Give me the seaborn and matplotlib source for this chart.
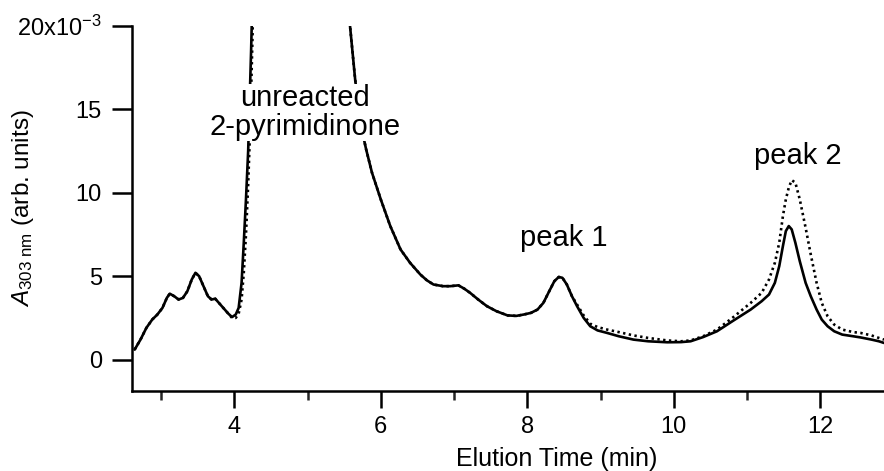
import numpy as np
import pandas as pd
import matplotlib
matplotlib.use("Agg")
import matplotlib.pyplot as plt
import seaborn as sns

# ---- data (absorbance in units of 1e-3) ----
time_min = [2.64, 2.72, 2.80, 2.88, 2.95, 3.02, 3.08, 3.12, 3.18, 3.24, 3.30, 3.36,
            3.42, 3.47, 3.52, 3.58, 3.64, 3.69, 3.74, 3.79, 3.85, 3.92, 3.97, 4.02,
            4.06, 4.10, 4.13, 4.16, 4.19, 4.21, 4.23, 4.25, 4.30, 4.60, 5.00, 5.30,
            5.52, 5.58, 5.65, 5.72, 5.80, 5.88, 6.00, 6.13, 6.27, 6.40, 6.54, 6.63,
            6.72, 6.85, 6.95, 7.06, 7.14, 7.22, 7.33, 7.45, 7.58, 7.73, 7.85, 7.95,
            8.05, 8.14, 8.22, 8.30, 8.37, 8.43, 8.48, 8.54, 8.61, 8.68, 8.77, 8.86,
            8.96, 9.09, 9.25, 9.45, 9.65, 9.91, 10.10, 10.23, 10.40, 10.59, 10.80, 11.05,
            11.20, 11.30, 11.38, 11.44, 11.49, 11.53, 11.57, 11.61, 11.66, 11.72, 11.80, 11.87,
            11.95, 12.02, 12.10, 12.19, 12.30, 12.45, 12.55, 12.70, 12.80, 12.87]

solid_abs = [0.6, 1.2, 1.9, 2.4, 2.7, 3.1, 3.7, 3.95, 3.8, 3.6, 3.7, 4.1,
             4.8, 5.2, 5.0, 4.4, 3.8, 3.6, 3.65, 3.4, 3.1, 2.75, 2.55, 2.7,
             3.1, 4.6, 7.0, 9.6, 12.5, 15.5, 18.5, 22.0, 35.0, 80.0, 100.0, 60.0,
             25.0, 20.0, 16.8, 14.2, 12.6, 11.2, 9.6, 8.0, 6.6, 5.8, 5.1, 4.75,
             4.5, 4.4, 4.4, 4.45, 4.25, 4.0, 3.6, 3.2, 2.9, 2.65, 2.62, 2.7,
             2.8, 3.0, 3.4, 4.1, 4.7, 4.95, 4.9, 4.5, 3.8, 3.2, 2.5, 2.0,
             1.75, 1.6, 1.4, 1.2, 1.1, 1.04, 1.05, 1.1, 1.35, 1.7, 2.3, 3.0,
             3.5, 3.9, 4.6, 5.6, 6.8, 7.7, 8.0, 7.8, 7.0, 5.9, 4.6, 3.8,
             3.0, 2.4, 2.0, 1.7, 1.5, 1.4, 1.33, 1.2, 1.1, 1.0]

dotted_abs = [0.6, 1.2, 1.9, 2.4, 2.7, 3.1, 3.7, 3.95, 3.8, 3.6, 3.7, 4.1,
              4.8, 5.2, 5.0, 4.4, 3.8, 3.6, 3.65, 3.4, 3.1, 2.75, 2.5, 2.5,
              2.75, 3.6, 5.2, 7.5, 10.5, 13.0, 16.0, 19.5, 32.0, 80.0, 100.0, 60.0,
              25.0, 20.0, 16.8, 14.2, 12.6, 11.2, 9.6, 8.0, 6.6, 5.8, 5.1, 4.75,
              4.5, 4.4, 4.4, 4.45, 4.25, 4.0, 3.6, 3.2, 2.9, 2.65, 2.62, 2.7,
              2.8, 3.0, 3.4, 4.1, 4.7, 4.95, 4.9, 4.5, 3.8, 3.3, 2.65, 2.15,
              1.95, 1.8, 1.65, 1.45, 1.3, 1.15, 1.1, 1.15, 1.4, 1.8, 2.5, 3.4,
              4.0, 4.8, 5.8, 7.0, 8.6, 9.6, 10.3, 10.75, 10.6, 9.6, 7.9, 6.3,
              4.6, 3.4, 2.6, 2.1, 1.8, 1.65, 1.6, 1.45, 1.3, 1.2]

x_major = [4, 6, 8, 10, 12]
x_minor = [3, 5, 7, 9, 11]
y_ticks = [0, 5, 10, 15, 20]
y_ticklabels = ["0", "5", "10", "15", r"20x10$^{\mathregular{-3}}$"]

annotations = [("unreacted", 4.97, 15.17),
               ("2-pyrimidinone", 4.97, 13.47),
               ("peak 1", 8.50, 6.83),
               ("peak 2", 11.70, 11.7)]

# ---- styling ----
sns.set_theme(style="ticks")
plt.rcParams["font.family"] = ["Liberation Sans", "DejaVu Sans"]
plt.rcParams["mathtext.fontset"] = "custom"
plt.rcParams["mathtext.rm"] = "Liberation Sans"
plt.rcParams["mathtext.it"] = "Liberation Sans:italic"
plt.rcParams["mathtext.default"] = "regular"

df = pd.DataFrame({
    "time": time_min * 2,
    "abs": solid_abs + dotted_abs,
    "trace": ["solid"] * len(time_min) + ["dotted"] * len(time_min),
})

fig = plt.figure(figsize=(8.84, 4.71), dpi=100)
ax = fig.add_axes([131.7 / 884, 1 - 390.7 / 471, 1 - 131.7 / 884, (390.7 - 25.7) / 471])

sns.lineplot(data=df[df.trace == "solid"], x="time", y="abs", ax=ax,
             color="black", lw=1.9, estimator=None, sort=False, legend=False)
sns.lineplot(data=df[df.trace == "dotted"], x="time", y="abs", ax=ax,
             color="black", lw=1.9, estimator=None, sort=False, legend=False,
             linestyle=(0, (0.9, 1.3)))

ax.set_xlim(2.60, 12.87)
ax.set_ylim(-1.86, 20)

ax.set_xticks(x_major)
ax.set_xticks(x_minor, minor=True)
ax.set_yticks(y_ticks)
ax.set_yticklabels(y_ticklabels)

for side in ["top", "right"]:
    ax.spines[side].set_visible(False)
for side in ["left", "bottom"]:
    ax.spines[side].set_linewidth(1.8)
    ax.spines[side].set_color("black")

ax.tick_params(axis="x", which="major", direction="out", length=12.5, width=1.8,
               pad=6, labelsize=17, colors="black")
ax.tick_params(axis="x", which="minor", direction="out", length=6.5, width=1.8)
ax.tick_params(axis="y", which="major", direction="out", length=14.5, width=1.8,
               pad=7, labelsize=17, colors="black")

ax.set_xlabel("Elution Time (min)", fontsize=18, color="black")
ax.xaxis.set_label_coords((556.7 - 131.7) / (884 - 131.7), -(447 - 390.7) / 365.0)
ax.set_ylabel(r"$\mathit{A}_{303\ nm}$ (arb. units)", fontsize=17.5, color="black")
ax.yaxis.set_label_coords((36 - 131.7) / (884 - 131.7), 0.5)

for txt, xx, yy in annotations:
    ax.text(xx, yy, txt, ha="center", va="baseline", fontsize=21, color="black",
            bbox=dict(facecolor="white", edgecolor="none", pad=0.5), zorder=5)

ax.set_facecolor("white")
fig.patch.set_facecolor("white")
fig.savefig("out.png", dpi=100)
